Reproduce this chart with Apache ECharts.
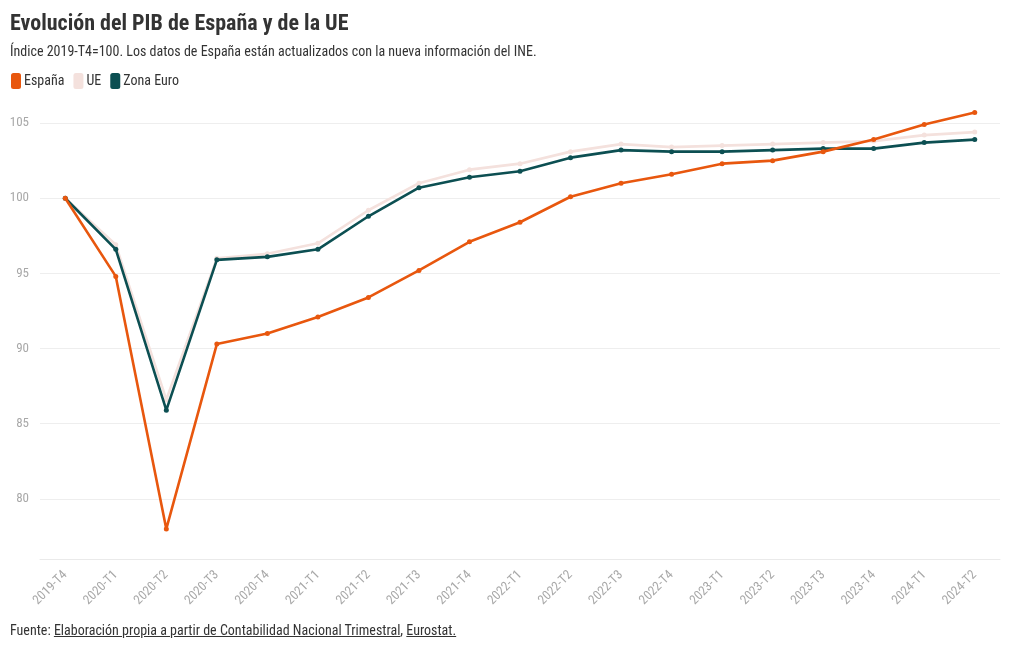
<!DOCTYPE html>
<html>
<head>
<meta charset="utf-8">
<script src="https://cdn.jsdelivr.net/npm/echarts@6/dist/echarts.min.js"></script>
<style>
  html, body { margin: 0; padding: 0; background: #fff; }
  #wrap { position: relative; width: 1020px; height: 650px; }
  #chart { width: 1020px; height: 650px; }
  #foot { position: absolute; left: 10px; top: 622px; font-family: "Roboto Condensed", "Liberation Sans Narrow", "DejaVu Sans Condensed", sans-serif; font-size: 14px; color: #333; }
  #foot span.u { text-decoration: underline; }
</style>
</head>
<body>
<div id="wrap">
  <div id="chart"></div>
  <div id="foot">Fuente: <span class="u">Elaboración propia a partir de Contabilidad Nacional Trimestral</span>, <span class="u">Eurostat.</span></div>
</div>
<script>
const categories = ['2019-T4','2020-T1','2020-T2','2020-T3','2020-T4','2021-T1','2021-T2','2021-T3','2021-T4','2022-T1','2022-T2','2022-T3','2022-T4','2023-T1','2023-T2','2023-T3','2023-T4','2024-T1','2024-T2'];
const espana   = [100, 94.8, 78.0, 90.3, 91.0, 92.1, 93.4, 95.2, 97.1, 98.4, 100.1, 101.0, 101.6, 102.3, 102.5, 103.1, 103.9, 104.9, 105.7];
const ue       = [100, 96.9, 86.6, 96.0, 96.3, 97.0, 99.2, 101.0, 101.9, 102.3, 103.1, 103.6, 103.4, 103.5, 103.6, 103.7, 103.8, 104.2, 104.4];
const zonaEuro = [100, 96.6, 85.9, 95.9, 96.1, 96.6, 98.8, 100.7, 101.4, 101.8, 102.7, 103.2, 103.1, 103.1, 103.2, 103.3, 103.3, 103.7, 103.9];

const FONT = '"Roboto Condensed", "Liberation Sans Narrow", "DejaVu Sans Condensed", sans-serif';
const C_ES = '#e8570e', C_UE = '#f4e1dd', C_ZE = '#0c4f52';

const chart = echarts.init(document.getElementById('chart'), null, { renderer: 'canvas' });

function mkSeries(name, data, color, z) {
  return {
    name, type: 'line', data, z,
    symbol: 'circle', symbolSize: 5, showSymbol: true,
    lineStyle: { color, width: 2.6 },
    itemStyle: { color },
    emphasis: { disabled: true }
  };
}

chart.setOption({
  animation: false,
  textStyle: { fontFamily: FONT },
  title: {
    text: 'Evolución del PIB de España y de la UE',
    subtext: 'Índice 2019-T4=100. Los datos de España están actualizados con la nueva información del INE.',
    left: 5, top: 8, itemGap: 10,
    textStyle: { fontFamily: FONT, fontSize: 22, fontWeight: 'bold', color: '#333' },
    subtextStyle: { fontFamily: FONT, fontSize: 14, color: '#333' }
  },
  legend: {
    left: 6, top: 68,
    icon: 'roundRect', itemWidth: 10, itemHeight: 16, itemGap: 9,
    textStyle: { fontFamily: FONT, fontSize: 14, color: '#333', padding: [0, 0, 0, -2] },
    data: ['España', 'UE', 'Zona Euro']
  },
  grid: { left: 40, right: 20, top: 93, bottom: 91, containLabel: false },
  xAxis: {
    type: 'category', data: categories, boundaryGap: true,
    axisLine: { lineStyle: { color: '#eaeaea', width: 1 } },
    axisTick: { alignWithLabel: true, length: 4, lineStyle: { color: '#eaeaea' } },
    axisLabel: { rotate: 45, color: '#a8a8a8', fontSize: 13, fontFamily: FONT, margin: 14, interval: 0 }
  },
  yAxis: {
    type: 'value', min: 76, max: 107,
    axisLine: { show: false }, axisTick: { show: false },
    axisLabel: { color: '#a8a8a8', fontSize: 13, fontFamily: FONT, margin: 11, showMinLabel: false, showMaxLabel: false },
    splitLine: { lineStyle: { color: '#eeeeee', width: 1 }, showMinLine: false, showMaxLine: false }
  },
  series: [
    mkSeries('España', espana, C_ES, 4),
    mkSeries('UE', ue, C_UE, 2),
    mkSeries('Zona Euro', zonaEuro, C_ZE, 3)
  ]
});
</script>
</body>
</html>
